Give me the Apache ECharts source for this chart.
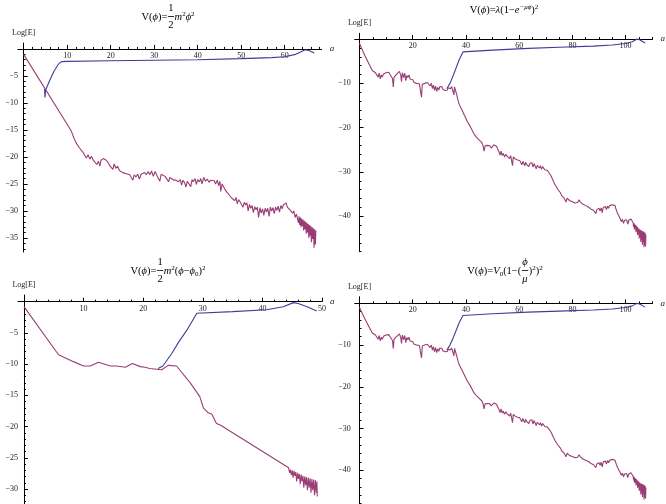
<!DOCTYPE html>
<html><head><meta charset="utf-8">
<script src="https://cdn.jsdelivr.net/npm/echarts@6/dist/echarts.min.js"></script>
<style>html,body{margin:0;padding:0;background:#fff}#c{width:666px;height:504px}</style>
</head><body><div id="c"></div>
<script>
// ---------- data ----------
const blueTL = [[4.8,-7.4],[4.9,-9.0],[5.05,-7.6],[6,-5.8],[7,-4.1],[8,-2.8],[8.7,-2.35],[10,-2.3],[20,-2.2],[30,-2.1],[40,-2.0],[50,-1.8],[57,-1.6],[60,-1.45],[62.5,-1.0],[64.7,-0.15],[65.7,-0.35],[66.8,-0.75]];
const purpleTL = [[0,-1],[10.5,-14.6],[11,-15.3],[11.5,-16.4],[12,-17.3],[12.4,-17.6],[12.8,-18.3],[13.2,-18.5],[13.6,-19.1],[14,-19.0],[14.4,-20.2],[14.8,-19.6],[15.2,-20.4],[15.6,-19.9],[16,-20.6],[16.4,-20.8],[16.8,-21.4],[17.2,-20.8],[17.5,-21.7],[17.8,-20.6],[18.3,-20.3],[18.8,-20.5],[19.3,-20.9],[19.7,-21.5],[20.1,-21.4],[20.5,-22.3],[20.8,-21.3],[21.2,-22.1],[21.6,-21.7],[22,-22.5],[22.4,-22.4],[22.8,-22.9],[23.2,-22.6],[23.6,-23.1],[24,-22.8],[24.4,-23.3],[24.8,-23.5],[25.1,-24.3],[25.4,-23.3],[25.8,-23.7],[26.2,-23.2],[26.6,-24.1],[27,-23.2],[27.4,-23.5],[27.8,-22.9],[28.2,-23.3],[28.6,-22.7],[29,-23.3],[29.4,-22.6],[29.8,-23.6],[30.2,-22.7],[30.6,-23.4],[31,-23.1],[31.3,-24.5],[31.6,-23.2],[32,-23.5],[32.5,-23.6],[33,-24.2],[33.3,-24.6],[33.6,-23.8],[34,-24.0],[34.5,-24.3],[35,-24.3],[35.5,-24.6],[36,-24.2],[36.3,-25.2],[36.6,-24.3],[37,-24.8],[37.3,-25.6],[37.6,-24.5],[38,-24.6],[38.4,-25.5],[38.7,-24.2],[39,-24.6],[39.4,-24.0],[39.7,-25.1],[40,-24.2],[40.4,-24.6],[40.7,-24.0],[41,-25.0],[41.4,-23.8],[41.8,-24.5],[42.2,-24.1],[42.6,-24.7],[43,-24.3],[43.4,-24.6],[43.8,-24.4],[44.1,-25.0],[44.5,-24.3],[44.8,-25.3],[45.1,-24.5],[45.3,-26.4],[45.6,-25.0],[46,-25.6],[46.4,-26.2],[46.8,-26.6],[47.2,-27.0],[47.5,-26.7],[47.8,-27.6],[48.2,-27.3],[48.5,-28.1],[48.8,-27.5],[49.1,-28.7],[49.4,-27.9],[49.8,-28.4],[50.1,-28.2],[50.4,-29.3],[50.7,-28.4],[51,-28.9],[51.3,-28.5],[51.6,-30.0],[51.9,-28.8],[52.2,-29.5],[52.5,-29.0],[52.8,-30.3],[53.1,-29.2],[53.4,-29.8],[53.7,-29.3],[54,-31.2],[54.3,-29.4],[54.6,-30.4],[54.9,-29.6],[55.2,-30.8],[55.5,-29.5],[55.8,-30.2],[56.1,-29.5],[56.4,-31.0],[56.7,-29.3],[57,-30.0],[57.3,-29.4],[57.6,-30.5],[57.9,-29.3],[58.2,-29.9],[58.5,-29.1],[58.8,-30.2],[59.1,-29.0],[59.4,-29.6],[59.7,-28.9],[60,-28.7],[60.3,-28.5],[60.6,-29.3],[60.9,-29.0],[61.2,-29.8],[61.5,-29.6],[61.8,-30.4],[62.1,-30.0],[62.4,-31.2],[62.7,-30.6],[63.0,-30.8],[63.15,-32.2],[63.3,-31.0],[63.45,-32.6],[63.6,-31.2],[63.75,-33.0],[63.9,-31.4],[64.05,-32.8],[64.2,-31.6],[64.35,-33.6],[64.5,-31.8],[64.65,-33.4],[64.8,-32.0],[64.95,-34.2],[65.1,-32.2],[65.25,-34.0],[65.4,-32.4],[65.55,-35.0],[65.7,-32.6],[65.85,-34.6],[66.0,-32.8],[66.15,-35.8],[66.3,-33.0],[66.45,-35.2],[66.6,-33.2],[66.75,-36.8],[66.9,-33.4],[67.05,-36.2],[67.15,-33.6]];

const blueTR = [[32.8,-11.2],[34,-10],[35.3,-8.1],[36.5,-6.2],[37.5,-4.6],[38.9,-2.9],[39.5,-2.75],[50,-2.5],[63.4,-2.1],[75,-1.85],[87.8,-1.6],[95,-1.35],[100,-1.0],[102.5,-0.6],[104.3,0],[105.5,-0.2],[106.5,-0.6],[107.3,-0.9]];
const purpleTR = [[0,-1],[2,-3.7],[4.8,-7.1],[5.4,-7.2],[6,-7.6],[6.5,-7.3],[7,-8.6],[7.4,-7.7],[7.8,-9.0],[8.2,-8.1],[8.6,-8.6],[9,-7.9],[9.5,-8.3],[10,-7.6],[10.5,-7.9],[11,-7.5],[11.5,-8.0],[12,-7.9],[12.4,-8.9],[12.7,-10.8],[13,-8.6],[13.5,-8.9],[14,-7.9],[14.5,-7.6],[15,-7.3],[15.5,-8.2],[15.8,-9.6],[16.1,-7.6],[16.6,-8.7],[17,-7.7],[17.4,-9.4],[17.8,-8.2],[18.2,-8.7],[18.6,-8.1],[19,-9.0],[19.5,-9.4],[20,-9.2],[20.5,-9.8],[21,-9.4],[21.5,-10.0],[22,-9.7],[22.5,-10.1],[22.9,-9.8],[23.3,-13.1],[23.6,-10.2],[24,-10.6],[24.5,-10.0],[25,-10.3],[25.5,-9.8],[26,-10.2],[26.5,-10.6],[27,-10.0],[27.4,-11.2],[27.8,-10.4],[28.2,-11.6],[28.6,-10.6],[29,-11.8],[29.4,-10.9],[29.8,-11.5],[30.2,-10.7],[30.6,-11.0],[31,-10.8],[31.4,-11.4],[31.8,-11.0],[32.2,-11.6],[32.6,-11.2],[33,-11.5],[33.4,-11.0],[33.8,-10.9],[34.2,-11.2],[34.6,-10.7],[35,-10.9],[35.3,-10.5],[35.5,-12.6],[35.7,-10.8],[36,-11.1],[36.5,-12.5],[37,-13.8],[37.5,-14.8],[38,-15.2],[38.5,-16.0],[39,-16.4],[39.5,-17.3],[40,-17.5],[40.5,-18.6],[41,-19.0],[41.5,-19.6],[42,-20.2],[42.5,-20.6],[43,-21.4],[43.5,-21.7],[44,-22.2],[44.5,-22.6],[45,-22.8],[45.5,-23.1],[46,-23.4],[46.4,-24.0],[46.8,-25.3],[47.2,-24.1],[47.6,-24.4],[48,-24.0],[48.5,-24.3],[49,-24.1],[49.5,-24.6],[50,-24.3],[50.5,-23.9],[51,-23.8],[51.5,-24.2],[52,-24.9],[52.4,-25.4],[52.8,-26.2],[53.2,-25.3],[53.6,-26.3],[54,-25.8],[54.5,-26.6],[55,-26.0],[55.5,-26.5],[56,-26.4],[56.4,-27.0],[56.8,-26.3],[57.2,-26.6],[57.5,-28.6],[57.8,-26.6],[58.2,-26.9],[58.6,-27.1],[59,-26.7],[59.4,-27.3],[59.8,-27.0],[60.2,-27.4],[60.6,-27.2],[61,-28.4],[61.4,-27.6],[61.8,-27.5],[62.1,-28.6],[62.4,-27.8],[62.8,-28.3],[63.2,-28.0],[63.6,-28.8],[64,-28.1],[64.4,-28.3],[64.8,-27.9],[65.2,-28.9],[65.6,-28.1],[66,-28.4],[66.4,-29.3],[66.8,-28.5],[67.2,-28.8],[67.6,-29.1],[68,-28.6],[68.4,-29.4],[68.8,-28.8],[69.2,-29.0],[69.6,-29.5],[70,-29.2],[70.5,-29.6],[71,-29.8],[71.5,-30.4],[72,-30.9],[72.5,-31.6],[73,-32.3],[73.5,-32.9],[74,-33.4],[74.5,-33.9],[75,-34.3],[75.5,-34.7],[76,-35.4],[76.4,-35.0],[76.8,-35.8],[77.2,-35.5],[77.6,-36.8],[78,-35.9],[78.5,-36.2],[79,-36.5],[79.5,-36.1],[80,-36.7],[80.5,-36.4],[81,-37.0],[81.5,-36.6],[82,-36.9],[82.5,-36.3],[83,-36.8],[83.5,-37.0],[84,-37.3],[84.5,-37.1],[85,-37.6],[85.5,-37.4],[86,-37.9],[86.5,-37.7],[87,-38.4],[87.5,-38.0],[88,-38.7],[88.4,-38.3],[88.8,-39.4],[89.2,-38.5],[89.6,-38.9],[90,-38.2],[90.4,-38.8],[90.8,-38.1],[91.2,-39.2],[91.6,-38.0],[92,-38.4],[92.4,-37.8],[92.8,-38.5],[93.2,-37.7],[93.6,-38.2],[94,-37.6],[94.5,-37.9],[95,-37.4],[95.5,-37.2],[96,-37.6],[96.5,-38.6],[97,-39.4],[97.5,-40.0],[98,-40.6],[98.4,-41.2],[98.8,-40.7],[99.2,-41.6],[99.6,-40.9],[100,-41.3],[100.4,-40.8],[100.8,-41.8],[101.2,-40.9],[101.6,-41.1],[102,-40.6],[102.4,-40.5],[102.8,-41.4],[103,-42.4],[103.15,-41.6],[103.3,-43.0],[103.45,-41.8],[103.6,-42.8],[103.75,-42.0],[103.9,-43.6],[104.05,-42.2],[104.2,-43.4],[104.35,-42.4],[104.5,-44.2],[104.65,-42.6],[104.8,-44.0],[104.95,-42.8],[105.1,-45.0],[105.25,-43.0],[105.4,-44.6],[105.55,-43.1],[105.7,-45.8],[105.85,-43.2],[106,-45.4],[106.15,-43.3],[106.3,-46.4],[106.45,-43.4],[106.6,-45.8],[106.75,-43.5],[106.9,-47.0],[107.05,-43.6],[107.2,-46.6],[107.35,-43.8],[107.5,-46.8],[107.6,-44.2]];

const blueBL = [[22.5,-10.7],[23.3,-10.3],[24.8,-8.3],[26,-6.4],[27.3,-4.6],[29,-1.85],[35,-1.6],[40.7,-1.3],[43.5,-0.8],[45.2,-0.15],[46,-0.3],[47.5,-0.8],[49.1,-1.5]];
const purpleBL = [[0,-0.8],[5.8,-8.5],[8.3,-9.6],[10,-10.3],[11.1,-10.3],[12.5,-9.7],[14.5,-10.3],[15.5,-10.3],[17,-10.5],[18.2,-9.9],[19.5,-10.4],[20.3,-10.5],[21.1,-10.7],[23.1,-10.9],[24.2,-10.2],[25.6,-10.3],[27.9,-13],[29.5,-15.2],[30.1,-17],[30.9,-17.8],[31.5,-18],[32.3,-19.5],[33,-19.8],[44.4,-26.6],[44.55,-27.4],[44.7,-26.9],[44.85,-27.8],[45,-27.0],[45.15,-28.2],[45.3,-27.1],[45.45,-27.9],[45.6,-27.3],[45.75,-28.8],[45.9,-27.4],[46.05,-28.4],[46.2,-27.6],[46.35,-29.2],[46.5,-27.7],[46.65,-28.8],[46.8,-27.9],[46.95,-29.8],[47.1,-28.0],[47.25,-29.4],[47.4,-28.1],[47.55,-30.2],[47.7,-28.2],[47.85,-29.8],[48,-28.3],[48.15,-30.6],[48.3,-28.4],[48.45,-30.2],[48.6,-28.5],[48.75,-31.0],[48.9,-28.6],[49.05,-30.6],[49.15,-28.8],[49.2,-31.2]];

const blueBR = blueTR;
const purpleBR = purpleTR;

// tick labels
const xTicksTL = [10,20,30,40,50,60];
const yTicksTL = [-5,-10,-15,-20,-25,-30,-35];
const xTicksTR = [20,40,60,80,100];
const yTicksTR = [-10,-20,-30,-40];
const xTicksBL = [10,20,30,40,50];
const yTicksBL = [-5,-10,-15,-20,-25,-30];
const xTicksBR = [20,40,60,80,100];
const yTicksBR = [-10,-20,-30,-40];

// ---------- chart ----------
const BLUE = '#3d3d99', PURPLE = '#993d74';
const SERIF = 'Liberation Serif';

function minors(lo, hi, step, majors, sign) {
  const out = [];
  for (let k = Math.ceil(lo / step); k * step <= hi + 1e-9; k++) {
    const v = +(k * step).toFixed(6);
    if (v === 0 || majors.indexOf(v) >= 0) continue;
    if (sign > 0 && v < 0) continue;
    if (sign < 0 && v > 0) continue;
    out.push(v);
  }
  return out;
}
const fmt = v => (v === 0 ? '' : String(v).replace('-', '\u2212'));

const panels = [
  {grid:{left:18, top:43, width:303.7, height:209}, x:[-1.3,68.5], y:[-37.6,1.1], xMaj:xTicksTL, xStep:2, yMaj:yTicksTL, yStep:1, yLabMargin:0, blue:blueTL, purple:purpleTL},
  {grid:{left:354.7, top:33.3, width:303.3, height:218.4}, x:[-1.8,110.1], y:[-48,1.3], xMaj:xTicksTR, xStep:5, yMaj:yTicksTR, yStep:2, yLabMargin:4, blue:blueTR, purple:purpleTR},
  {grid:{left:18, top:295, width:304, height:209.7}, x:[-1,50], y:[-32.4,1.07], xMaj:xTicksBL, xStep:2, yMaj:yTicksBL, yStep:1, yLabMargin:0, blue:blueBL, purple:purpleBL},
  {grid:{left:354.7, top:296.7, width:303.3, height:207.3}, x:[-1.8,110.1], y:[-48.1,1.6], xMaj:xTicksBR, xStep:5, yMaj:yTicksBR, yStep:2, yLabMargin:4, blue:blueBR, purple:purpleBR}
];

const grids = [], xAxes = [], yAxes = [], series = [];
panels.forEach((p, i) => {
  grids.push(Object.assign({containLabel:false}, p.grid));
  const xi = 2 * i, yi = 2 * i;
  const lineSt = {color:'#000', width:1};
  // distance from the grid's top edge down to the y=0 line, in px
  const zeroDrop = p.y[1] / (p.y[1] - p.y[0]) * p.grid.height;
  xAxes.push({
    type:'value', gridIndex:i, min:p.x[0], max:p.x[1], position:'top',
    axisLine:{show:true, onZero:true, onZeroAxisIndex:yi, lineStyle:lineSt},
    axisTick:{show:true, inside:false, length:4, customValues:p.xMaj, lineStyle:lineSt},
    axisLabel:{show:true, inside:true, margin:zeroDrop + 3, verticalAlign:'top', customValues:p.xMaj, formatter:fmt, fontFamily:SERIF, fontSize:8, color:'#222'},
    splitLine:{show:false},
    name:'a', nameLocation:'end', nameGap:8,
    nameTextStyle:{fontFamily:SERIF, fontStyle:'italic', fontSize:9, color:'#222'}
  });
  xAxes.push({
    type:'value', gridIndex:i, min:p.x[0], max:p.x[1], position:'top',
    axisLine:{show:false, onZero:true, onZeroAxisIndex:yi},
    axisTick:{show:true, inside:false, length:2, customValues:minors(p.x[0], p.x[1], p.xStep, p.xMaj, 1), lineStyle:lineSt},
    axisLabel:{show:false}, splitLine:{show:false}
  });
  yAxes.push({
    type:'value', gridIndex:i, min:p.y[0], max:p.y[1], position:'left',
    axisLine:{show:true, onZero:true, onZeroAxisIndex:xi, lineStyle:lineSt},
    axisTick:{show:true, inside:true, length:4, customValues:p.yMaj, lineStyle:lineSt},
    axisLabel:{show:true, margin:p.yLabMargin, customValues:p.yMaj, formatter:fmt, fontFamily:SERIF, fontSize:8, color:'#222'},
    splitLine:{show:false},
    name:'Log[E]', nameLocation:'end', nameGap:6,
    nameTextStyle:{fontFamily:SERIF, fontSize:8, color:'#222', align:'center'}
  });
  yAxes.push({
    type:'value', gridIndex:i, min:p.y[0], max:p.y[1], position:'left',
    axisLine:{show:false, onZero:true, onZeroAxisIndex:xi},
    axisTick:{show:true, inside:true, length:2, customValues:minors(p.y[0], p.y[1], p.yStep, p.yMaj, -1), lineStyle:lineSt},
    axisLabel:{show:false}, splitLine:{show:false}
  });
  series.push({type:'line', xAxisIndex:xi, yAxisIndex:yi, data:p.blue, showSymbol:false, symbol:'none', lineStyle:{color:BLUE, width:1.1}, itemStyle:{color:BLUE}, z:2});
  series.push({type:'line', xAxisIndex:xi, yAxisIndex:yi, data:p.purple, showSymbol:false, symbol:'none', lineStyle:{color:PURPLE, width:1.1}, itemStyle:{color:PURPLE}, z:3});
});

// ---------- titles (laid out by measuring text) ----------
const FS = 10.5, FSS = 7;
const rich = {
  n:{fontFamily:SERIF, fontSize:FS, color:'#000', lineHeight:13},
  i:{fontFamily:SERIF, fontSize:FS, fontStyle:'italic', color:'#000', lineHeight:13},
  s:{fontFamily:SERIF, fontSize:FSS, color:'#000', lineHeight:8, verticalAlign:'top'},
  si:{fontFamily:SERIF, fontSize:FSS, fontStyle:'italic', color:'#000', lineHeight:8, verticalAlign:'top'},
  b:{fontFamily:SERIF, fontSize:FSS, color:'#000', lineHeight:8, verticalAlign:'bottom'}
};
const mctx = document.createElement('canvas').getContext('2d');
function richWidth(str) {
  let w = 0; const re = /\{(\w+)\|([^}]*)\}/g; let m;
  while ((m = re.exec(str))) {
    const st = rich[m[1]];
    mctx.font = (st.fontStyle || 'normal') + ' ' + st.fontSize + 'px "' + SERIF + '"';
    w += mctx.measureText(m[2]).width;
  }
  return w;
}
function txt(x, y, text, align) {
  return {type:'text', x:x, y:y, style:{text:text, rich:rich, align:align || 'left', verticalAlign:'middle'}, z:10};
}
function bar(x1, x2, y) {
  return {type:'line', shape:{x1:x1, y1:y, x2:x2, y2:y}, style:{stroke:'#000', lineWidth:0.8}, z:10};
}
function title(cx, cy, pieces) {
  const widths = pieces.map(p => typeof p === 'string' ? richWidth(p) : Math.max(richWidth(p.num), richWidth(p.den)) + 2);
  const total = widths.reduce((a, b) => a + b, 0);
  let x = cx - total / 2; const out = [];
  pieces.forEach((p, k) => {
    const w = widths[k];
    if (typeof p === 'string') out.push(txt(x, cy, p));
    else {
      out.push(txt(x + w / 2, cy - 9, p.num, 'center'));
      out.push(bar(x + 0.5, x + w - 0.5, cy - 0.5));
      out.push(txt(x + w / 2, cy + 8.5, p.den, 'center'));
    }
    x += w;
  });
  return out;
}
const PHI = '\u03d5', MU = '\u03bc', MINUS = '\u2212';
const graphic = [].concat(
  title(168, 17, ['{n|V(}{i|' + PHI + '}{n|)=}', {num:'{n|1}', den:'{n|2}'}, '{i|m}{s|2}{i|' + PHI + '}{s|2}']),
  title(504, 10, ['{n|V(}{i|' + PHI + '}{n|)=}{i|\u03bb}{n|(1' + MINUS + '}{i|e}{si|' + MINUS + MU + PHI + '}{n|)}{s|2}']),
  title(168, 271, ['{n|V(}{i|' + PHI + '}{n|)=}', {num:'{n|1}', den:'{n|2}'}, '{i|m}{s|2}{n|(}{i|' + PHI + '}{n|' + MINUS + '}{i|' + PHI + '}{b|0}{n|)}{s|2}']),
  title(505, 271, ['{n|V(}{i|' + PHI + '}{n|)=}{i|V}{b|0}{n|(1' + MINUS + '(}', {num:'{i|' + PHI + '}', den:'{i|' + MU + '}'}, '{n|)}{s|2}{n|)}{s|2}'])
);

const chart = echarts.init(document.getElementById('c'), null, {renderer:'canvas'});
chart.setOption({
  animation:false,
  backgroundColor:'#fff',
  grid:grids, xAxis:xAxes, yAxis:yAxes, series:series, graphic:graphic
});
</script>
</body></html>
